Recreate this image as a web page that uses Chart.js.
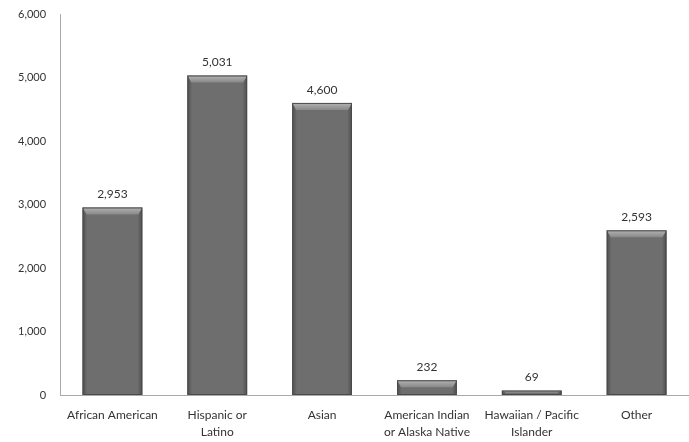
<!DOCTYPE html>
<html lang="en">
<head>
    <meta charset="UTF-8">
    <title>Population by Group</title>
    <script src="https://cdn.jsdelivr.net/npm/chart.js"></script>
    <style>
        html, body { margin: 0; padding: 0; background: #fff; }
        .chart-box { width: 689px; height: 442px; }
    </style>
</head>
<body>
    <div class="chart-box">
        <canvas id="groupChart"></canvas>
    </div>

    <script>
        // Values
        const categories = [
            'African American',
            ['Hispanic or', 'Latino'],
            'Asian',
            ['American Indian', 'or Alaska Native'],
            ['Hawaiian / Pacific', 'Islander'],
            'Other'
        ];
        const counts = [2953, 5031, 4600, 232, 69, 2593];
        const yTicks = [0, 1000, 2000, 3000, 4000, 5000, 6000];

        const fontFamily = 'Lato, "Open Sans", sans-serif';

        // Light bevel on top and dark edges, like the old office charts
        const bevelPlugin = {
            id: 'bevel',
            afterDatasetsDraw(chart) {
                const ctx = chart.ctx;
                chart.getDatasetMeta(0).data.forEach(bar => {
                    const left = bar.x - bar.width / 2;
                    const right = bar.x + bar.width / 2;
                    const top = bar.y;
                    const bottom = bar.base;
                    const cap = Math.min(7, (bottom - top) / 2);
                    ctx.save();
                    // side shading
                    const side = ctx.createLinearGradient(left, 0, right, 0);
                    side.addColorStop(0, 'rgba(40,40,40,0.45)');
                    side.addColorStop(0.08, 'rgba(40,40,40,0)');
                    side.addColorStop(0.92, 'rgba(40,40,40,0)');
                    side.addColorStop(1, 'rgba(40,40,40,0.45)');
                    ctx.fillStyle = side;
                    ctx.fillRect(left, top, right - left, bottom - top);
                    // top cap
                    const g = ctx.createLinearGradient(0, top, 0, top + cap);
                    g.addColorStop(0, '#b4b4b4');
                    g.addColorStop(1, '#888888');
                    ctx.fillStyle = g;
                    ctx.beginPath();
                    ctx.moveTo(left, top);
                    ctx.lineTo(right, top);
                    ctx.lineTo(right - 4, top + cap);
                    ctx.lineTo(left + 4, top + cap);
                    ctx.closePath();
                    ctx.fill();
                    ctx.strokeStyle = '#4a4a4a';
                    ctx.lineWidth = 1;
                    ctx.strokeRect(left + 0.5, top + 0.5, right - left - 1, bottom - top - 1);
                    ctx.restore();
                });
            }
        };

        // Value labels above each bar
        const valueLabels = {
            id: 'valueLabels',
            afterDatasetsDraw(chart) {
                const ctx = chart.ctx;
                ctx.save();
                ctx.font = '12px ' + fontFamily;
                ctx.fillStyle = '#333';
                ctx.textAlign = 'center';
                ctx.textBaseline = 'bottom';
                chart.getDatasetMeta(0).data.forEach((bar, i) => {
                    ctx.fillText(counts[i].toLocaleString('en-US'), bar.x, bar.y - 7);
                });
                ctx.restore();
            }
        };

        const ctx = document.getElementById('groupChart').getContext('2d');
        new Chart(ctx, {
            type: 'bar',
            data: {
                labels: categories,
                datasets: [{
                    data: counts,
                    backgroundColor: '#6e6e6e',
                    borderWidth: 0,
                    barPercentage: 0.57,
                    categoryPercentage: 1.0
                }]
            },
            options: {
                responsive: true,
                maintainAspectRatio: false,
                animation: false,
                layout: { padding: { top: 14, right: 0, left: 4, bottom: 0 } },
                plugins: {
                    legend: { display: false },
                    tooltip: { enabled: false }
                },
                scales: {
                    x: {
                        grid: { display: false, drawTicks: false },
                        border: { color: '#aaa', width: 1 },
                        afterFit: scale => { scale.height = 47; },
                        ticks: {
                            color: '#333',
                            font: { family: fontFamily, size: 12, lineHeight: 1.4 },
                            padding: 12,
                            maxRotation: 0,
                            autoSkip: false
                        }
                    },
                    y: {
                        min: 0,
                        max: 6000,
                        afterBuildTicks: axis => {
                            axis.ticks = yTicks.map(v => ({ value: v }));
                        },
                        afterFit: scale => {
                            scale.paddingTop = 0;
                            scale.paddingBottom = 0;
                        },
                        grid: { display: false, drawTicks: false },
                        border: { color: '#aaa', width: 1 },
                        ticks: {
                            color: '#333',
                            font: { family: fontFamily, size: 11 },
                            padding: 14,
                            callback: v => v.toLocaleString('en-US')
                        }
                    }
                }
            },
            plugins: [bevelPlugin, valueLabels]
        });
    </script>
</body>
</html>
